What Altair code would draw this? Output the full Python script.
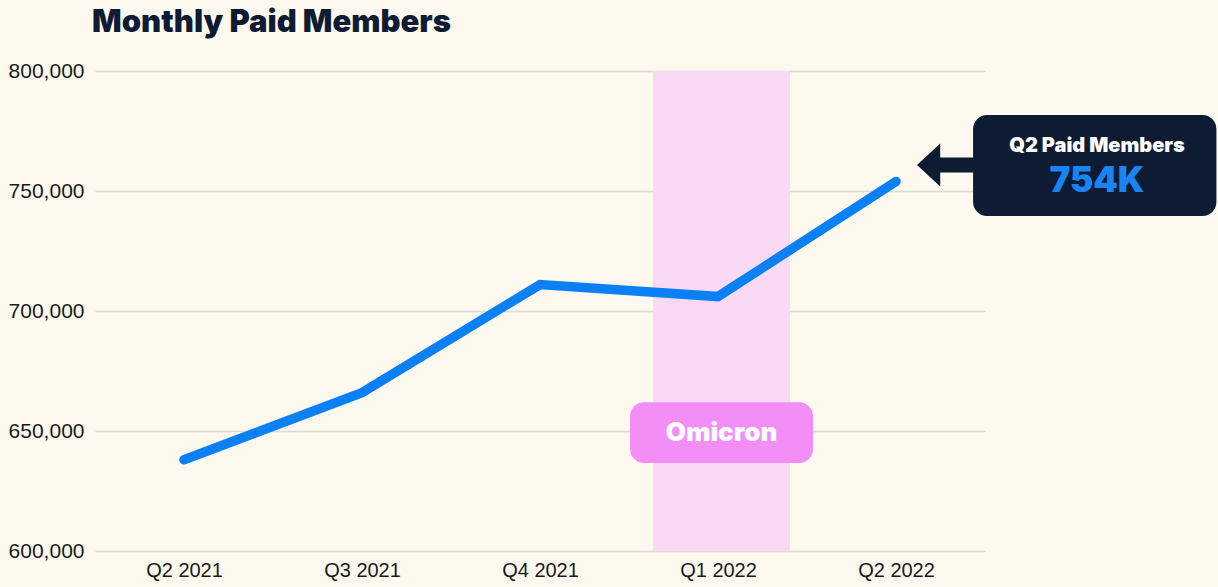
import altair as alt
import pandas as pd

# ---- data ----
quarters = ["Q2 2021", "Q3 2021", "Q4 2021", "Q1 2022", "Q2 2022"]
members = [638000, 666000, 711000, 706000, 754000]
idx = [0, 1, 2, 3, 4]

# Omicron period (in quarter-index units)
omicron_start = [2.635]
omicron_end = [3.404]
omicron_label_box = {"x": [2.506], "x2": [3.534], "y": [662000], "y2": [636700]}
omicron_label = {"x": [3.02], "y": [649200], "text": ["Omicron"]}

# Callout
callout_box = {"x": [4.433], "x2": [5.80], "y": [781700], "y2": [739600]}
callout_arrow = {"x": [4.281], "y": [760800]}
callout_title = {"x": [5.129], "y": [768800], "text": ["Q2 Paid Members"]}
callout_value = {"x": [5.129], "y": [754200], "text": ["754K"]}

BG = "#fdf9ef"
NAVY = "#0d1b33"
BLUE = "#0a80f7"

df = pd.DataFrame({"i": idx, "quarter": quarters, "members": members})

xscale = alt.Scale(domain=[-0.5, 4.5], nice=False, zero=False)
yscale = alt.Scale(domain=[600000, 800000], nice=False, zero=False)

label_expr = "[" + ",".join(f"'{q}'" for q in quarters) + "][datum.value]"

band = alt.Chart(pd.DataFrame({"x": omicron_start, "x2": omicron_end, "y": [800000], "y2": [600000]})).mark_rect(
    color="#f9d9f4"
).encode(
    x=alt.X("x:Q", scale=xscale),
    x2="x2:Q",
    y=alt.Y("y:Q", scale=yscale),
    y2="y2:Q",
)

line = alt.Chart(df).mark_line(
    color=BLUE, strokeWidth=9.5, strokeCap="round", strokeJoin="miter"
).encode(
    x=alt.X(
        "i:Q",
        scale=xscale,
        axis=alt.Axis(
            values=idx,
            labelExpr=label_expr,
            title=None,
            grid=False,
            domain=False,
            ticks=False,
            labelFontSize=20,
            labelFont="Liberation Sans",
            labelColor="#1a1a1a",
            labelPadding=9,
        ),
    ),
    y=alt.Y(
        "members:Q",
        scale=yscale,
        axis=alt.Axis(
            values=[600000, 650000, 700000, 750000, 800000],
            format=",.0f",
            title=None,
            domain=False,
            ticks=False,
            grid=True,
            gridColor="#dcdad5",
            gridWidth=1.5,
            labelFontSize=21,
            labelFont="Liberation Sans",
            labelColor="#1a1a1a",
            labelPadding=11,
        ),
    ),
)

ol_box = alt.Chart(pd.DataFrame(omicron_label_box)).mark_rect(
    color="#f28ef6", cornerRadius=14
).encode(x=alt.X("x:Q", scale=xscale), x2="x2:Q", y=alt.Y("y:Q", scale=yscale), y2="y2:Q")

ol_text = alt.Chart(pd.DataFrame(omicron_label)).mark_text(
    color="white", font="Inter", fontWeight=900, fontSize=26, baseline="middle", align="center"
).encode(x=alt.X("x:Q", scale=xscale), y=alt.Y("y:Q", scale=yscale), text="text:N")

cb = alt.Chart(pd.DataFrame(callout_box)).mark_rect(
    color=NAVY, cornerRadius=14
).encode(x=alt.X("x:Q", scale=xscale), x2="x2:Q", y=alt.Y("y:Q", scale=yscale), y2="y2:Q")

arrow_path = "M-1,0L-0.2,-0.74L-0.2,-0.26L1,-0.26L1,0.26L-0.2,0.26L-0.2,0.74Z"
ca = alt.Chart(pd.DataFrame(callout_arrow)).mark_point(
    shape=arrow_path, filled=True, color=NAVY, opacity=1, size=3364, strokeWidth=0
).encode(x=alt.X("x:Q", scale=xscale), y=alt.Y("y:Q", scale=yscale))

ct = alt.Chart(pd.DataFrame(callout_title)).mark_text(
    color="white", font="Inter", fontWeight=900, fontSize=20, baseline="middle", align="center"
).encode(x=alt.X("x:Q", scale=xscale), y=alt.Y("y:Q", scale=yscale), text="text:N")

cv = alt.Chart(pd.DataFrame(callout_value)).mark_text(
    color="#1a84f5", font="Inter", fontWeight=900, fontSize=35, baseline="middle", align="center"
).encode(x=alt.X("x:Q", scale=xscale), y=alt.Y("y:Q", scale=yscale), text="text:N")

chart = alt.layer(band, line, ol_box, ol_text, cb, ca, ct, cv).properties(
    width=890,
    height=480,
    autosize=alt.AutoSizeParams(type="none"),
    padding={"left": 95, "top": 71, "right": 233, "bottom": 36},
    background=BG,
    title=alt.TitleParams(
        "Monthly Paid Members",
        anchor="start",
        font="Inter",
        fontWeight=900,
        fontSize=31,
        color=NAVY,
        baseline="alphabetic",
        offset=1,
        dx=84,
        dy=4,
    ),
).configure_view(stroke=None)

chart.save("out.html", embed_options={"renderer": "svg", "actions": False})
